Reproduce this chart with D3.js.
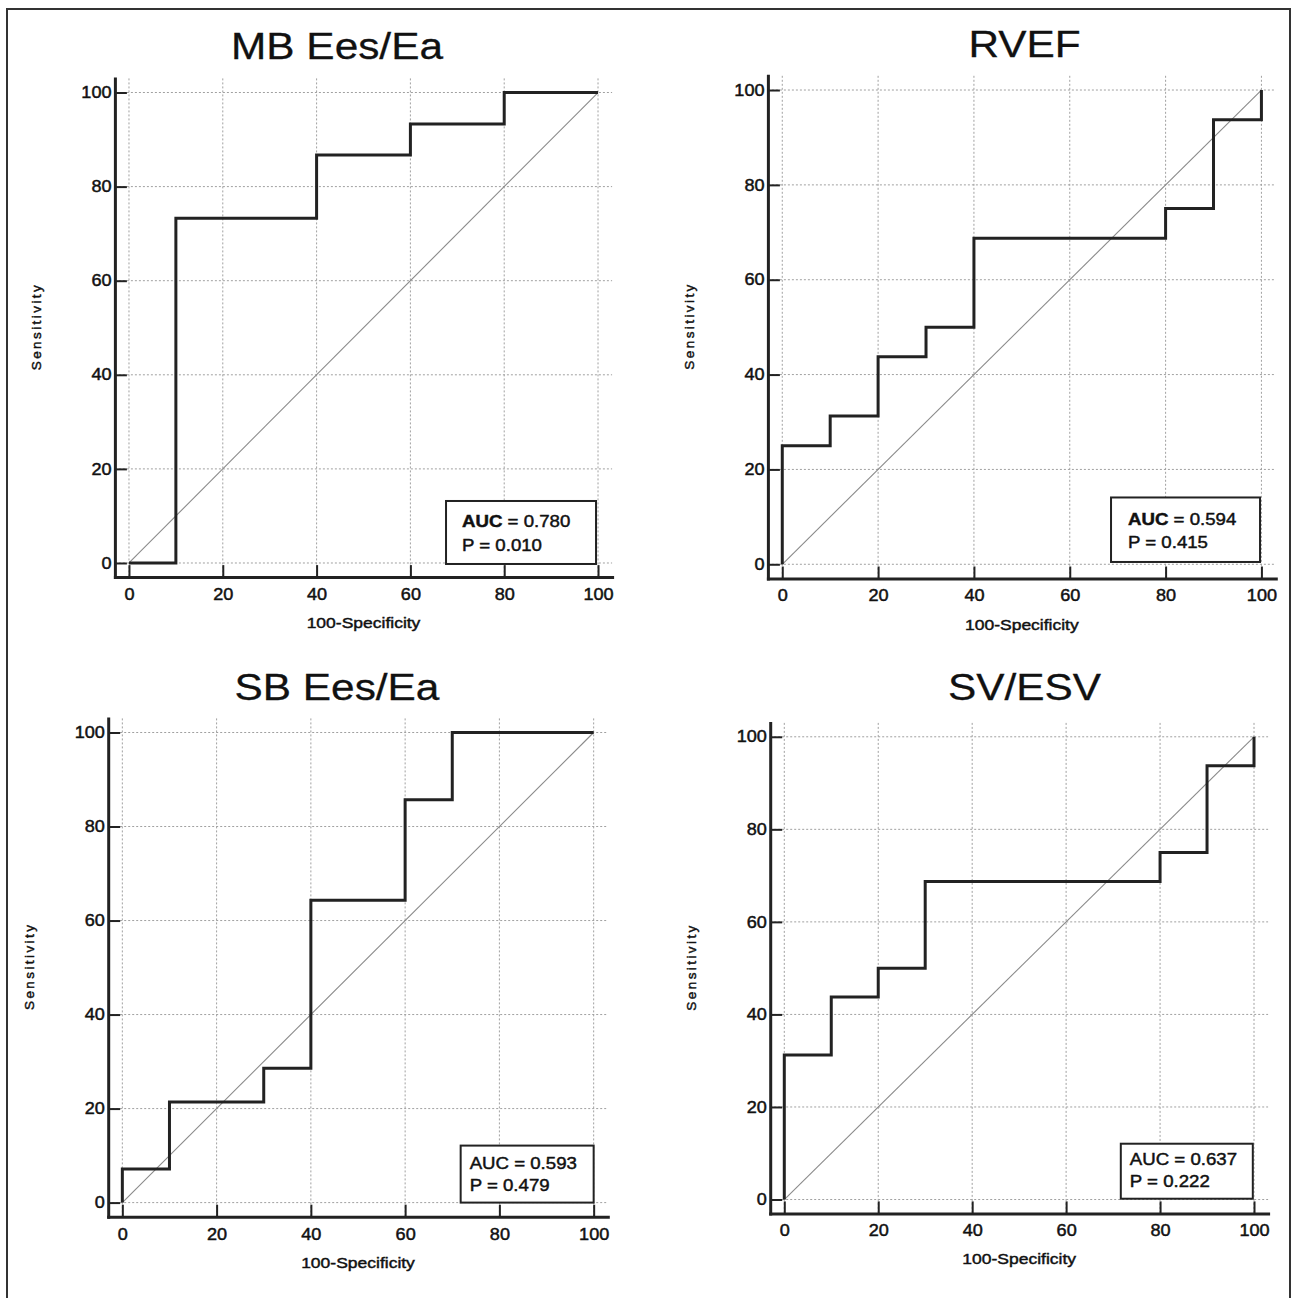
<!DOCTYPE html>
<html>
<head>
<meta charset="utf-8">
<script src="https://cdn.jsdelivr.net/npm/d3@7"></script>
<style>
  body { margin: 0; background: #fff; }
  svg { display: block; }
  text { font-family: "Liberation Sans", Arial, Helvetica, sans-serif; fill: #111; }
  .heavy { stroke: #111; stroke-width: 0.45; }
</style>
</head>
<body>
<svg id="fig" width="1292" height="1298"></svg>
<script>
// ---- data ----
const titles = ["MB Ees/Ea", "RVEF", "SB Ees/Ea", "SV/ESV"];

// ROC corner points: 100-Specificity (x) and Sensitivity (y), drawn step-after
const mbFpr   = [0, 10, 40, 60, 80, 100];
const mbSens  = [0, 73.3, 86.7, 93.3, 100, 100];
const rvefFpr  = [0, 0, 10, 20, 30, 40, 80, 90, 100];
const rvefSens = [0, 25, 31.25, 43.75, 50, 68.75, 75, 93.75, 100];
const sbFpr   = [0, 0, 10, 30, 40, 60, 70, 100];
const sbSens  = [0, 7.14, 21.4, 28.6, 64.3, 85.7, 100, 100];
const svFpr   = [0, 0, 10, 20, 30, 80, 90, 100];
const svSens  = [0, 31.25, 43.75, 50, 68.75, 75, 93.75, 100];

const aucValues = ["0.780", "0.594", "0.593", "0.637"];
const pValues   = ["0.010", "0.415", "0.479", "0.222"];

const majorTicks = [0, 20, 40, 60, 80, 100];
const minorTicks = [5, 10, 15, 25, 30, 35, 45, 50, 55, 65, 70, 75, 85, 90, 95];

const series = [
  [mbFpr, mbSens], [rvefFpr, rvefSens], [sbFpr, sbSens], [svFpr, svSens]
];

// ---- layout (pixel frames of each panel; axes frame spans -3..103) ----
const layout = [
  { left: 114.9, right: 612.1, top: 78.4, bottom: 577.1, titleX: 337, titleY: 59,
    box: { w: 150, h: 63, dx: -2, dy: 1, pad: 16, b1: 26, b2: 50 }, bold: true },
  { left: 767.9, right: 1275.8, top: 75.8, bottom: 578.5, titleX: 1024.5, titleY: 57,
    box: { w: 149, h: 64.5, dx: -1.4, dy: -2.3, pad: 17, b1: 27.5, b2: 50.5 }, bold: true },
  { left: 108.2, right: 607.8, top: 718.4, bottom: 1216.7, titleX: 337, titleY: 700,
    box: { w: 133, h: 57, dx: 0, dy: 0, pad: 9, b1: 23.6, b2: 45.6 }, bold: false },
  { left: 770.2, right: 1268.1, top: 722.9, bottom: 1213.4, titleX: 1024.5, titleY: 700,
    box: { w: 132, h: 55, dx: -1.2, dy: -0.8, pad: 9, b1: 21.5, b2: 43.5 }, bold: false },
];

const SX = 1.13;      // text in the source is drawn a bit wide
const INK = "#222";

const svg = d3.select("#fig");

// outer frame round the whole figure
svg.append("rect")
  .attr("x", 7).attr("y", 9).attr("width", 1283).attr("height", 1300)
  .attr("fill", "none").attr("stroke", "#333").attr("stroke-width", 2);

function drawPanel(i) {
  const L = layout[i];
  const [fpr, sens] = series[i];
  const x = d3.scaleLinear().domain([-3, 103]).range([L.left, L.right]);
  const y = d3.scaleLinear().domain([-3, 103]).range([L.bottom, L.top]);
  const g = svg.append("g");

  // title
  g.append("text")
    .attr("transform", `translate(${L.titleX},${L.titleY}) scale(${SX},1)`)
    .attr("text-anchor", "middle")
    .attr("font-size", 37.5)
    .attr("stroke", "#111").attr("stroke-width", 0.3)
    .text(titles[i]);

  // dotted grid
  const grid = g.append("g")
    .attr("stroke", "#a0a0a0").attr("stroke-width", 1).attr("stroke-dasharray", "2,2");
  grid.selectAll("line.v").data(majorTicks).join("line").attr("class", "v")
    .attr("x1", d => x(d)).attr("x2", d => x(d))
    .attr("y1", L.top).attr("y2", L.bottom);
  grid.selectAll("line.h").data(majorTicks).join("line").attr("class", "h")
    .attr("y1", d => y(d)).attr("y2", d => y(d))
    .attr("x1", L.left).attr("x2", L.right);

  // reference diagonal
  g.append("line")
    .attr("x1", x(0)).attr("y1", y(0)).attr("x2", x(100)).attr("y2", y(100))
    .attr("stroke", "#8a8a8a").attr("stroke-width", 1.1);

  // ROC curve
  const pts = fpr.map((f, k) => [f, sens[k]]);
  g.append("path")
    .attr("d", d3.line().x(d => x(d[0])).y(d => y(d[1])).curve(d3.curveStepAfter)(pts))
    .attr("fill", "none").attr("stroke", INK).attr("stroke-width", 3)
    .attr("stroke-linejoin", "miter");

  // AUC box
  const B = L.box;
  const bx = x(100) + B.dx - B.w, by = y(0) + B.dy - B.h;
  g.append("rect")
    .attr("x", bx).attr("y", by).attr("width", B.w).attr("height", B.h)
    .attr("fill", "#fff").attr("stroke", INK).attr("stroke-width", 2);
  const t1 = g.append("text").attr("class", "heavy")
    .attr("transform", `translate(${bx + B.pad},${by + B.b1}) scale(${SX},1)`)
    .attr("font-size", 16.5);
  t1.append("tspan").attr("font-weight", L.bold ? "bold" : "normal").text("AUC");
  t1.append("tspan").text(" = " + aucValues[i]);
  g.append("text").attr("class", "heavy")
    .attr("transform", `translate(${bx + B.pad},${by + B.b2}) scale(${SX},1)`)
    .attr("font-size", 16.5)
    .text("P = " + pValues[i]);

  // axes: ticks point inward
  const yAx = g.append("g").attr("transform", `translate(${L.left},0)`);
  yAx.call(d3.axisLeft(y).tickValues(minorTicks).tickSize(-6).tickSizeOuter(0).tickFormat(""));
  yAx.call(d3.axisLeft(y).tickValues(majorTicks).tickSize(-12).tickSizeOuter(0).tickPadding(3));
  const xAx = g.append("g").attr("transform", `translate(0,${L.bottom})`);
  xAx.call(d3.axisBottom(x).tickValues(minorTicks).tickSize(-6).tickSizeOuter(0).tickFormat(""));
  xAx.call(d3.axisBottom(x).tickValues(majorTicks).tickSize(-12).tickSizeOuter(0).tickPadding(11.5));

  [yAx, xAx].forEach(ax => {
    ax.selectAll(".domain").attr("stroke", INK).attr("stroke-width", 3).attr("stroke-linecap", "square");
    ax.selectAll(".tick line").attr("stroke", INK).attr("stroke-width", 2);
    ax.selectAll(".tick text")
      .attr("class", "heavy")
      .attr("font-family", "Liberation Sans, Arial, sans-serif")
      .attr("font-size", 16).attr("fill", "#111")
      .attr("transform", `scale(${SX},1)`);
  });

  // axis titles
  g.append("text").attr("class", "heavy")
    .attr("transform", `translate(${(L.left + L.right) / 2},${L.bottom + 51}) scale(${SX},1)`)
    .attr("text-anchor", "middle").attr("font-size", 15.5)
    .text("100-Specificity");
  g.append("text").attr("class", "heavy")
    .attr("transform", `translate(${L.left - 74},${(L.top + L.bottom) / 2}) rotate(-90)`)
    .attr("text-anchor", "middle").attr("font-size", 13.5)
    .attr("textLength", 85).attr("lengthAdjust", "spacing")
    .text("Sensitivity");
}

titles.forEach((_, i) => drawPanel(i));
</script>
</body>
</html>
